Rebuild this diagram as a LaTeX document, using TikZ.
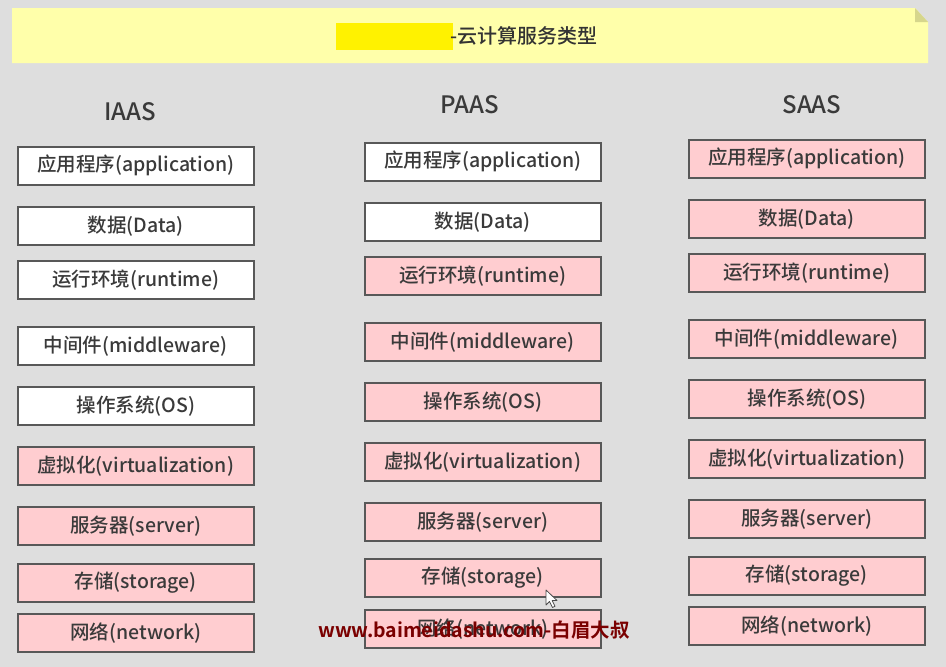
\documentclass[tikz,border=0pt]{standalone}
\usepackage{fontspec}
\setmainfont{Noto Sans CJK SC}[UprightFont={* Medium},BoldFont={* Bold}]
\definecolor{bg}{HTML}{DEDEDE}
\definecolor{pinkf}{HTML}{FFCDD0}
\definecolor{bord}{HTML}{585858}
\definecolor{txt}{HTML}{3A3A3A}
\definecolor{banner}{HTML}{FFFFAA}
\definecolor{foldc}{HTML}{D6D68C}
\definecolor{hl}{HTML}{FFF200}
\definecolor{wm}{HTML}{7A0000}
\begin{document}
\begin{tikzpicture}[x=1pt,y=-1pt,
  box/.style={draw=bord,line width=1.5pt,minimum width=236pt,minimum height=38pt,anchor=north west,inner sep=0pt,font=\fontsize{19.5}{21}\selectfont,text=txt},
  wbox/.style={box,fill=white},
  pbox/.style={box,fill=pinkf},
  head/.style={font=\fontsize{24}{26}\selectfont,text=txt,inner sep=0pt}]
\fill[bg] (0,0) rectangle (946,667);
\useasboundingbox (0,0) rectangle (946,667);
% banner
\fill[banner] (12,8) -- (915,8) -- (928,22) -- (928,63) -- (12,63) -- cycle;
\fill[foldc] (915,8) -- (928,22) -- (915,22) -- cycle;
\fill[hl] (336,23) rectangle (453,50);
\node[anchor=west,inner sep=0pt,font=\fontsize{20}{22}\selectfont,text=black!80] (title) at (450,36) {-云计算服务类型};
% headers
\node[head] (hi) at (130,112) {IAAS};
\node[head] (hp) at (470,105) {PAAS};
\node[head] (hs) at (812,105) {SAAS};
% IAAS
\node[wbox] (i1) at (17,146) {应用程序(application)};
\node[wbox] (i2) at (17,206) {数据(Data)};
\node[wbox] (i3) at (17,260) {运行环境(runtime)};
\node[wbox] (i4) at (17,326) {中间件(middleware)};
\node[wbox] (i5) at (17,386) {操作系统(OS)};
\node[pbox] (i6) at (17,446) {虚拟化(virtualization)};
\node[pbox] (i7) at (17,506) {服务器(server)};
\node[pbox] (i8) at (17,563) {存储(storage)};
\node[pbox] (i9) at (17,613) {网络(network)};
% PAAS
\node[wbox] (p1) at (364,142) {应用程序(application)};
\node[wbox] (p2) at (364,202) {数据(Data)};
\node[pbox] (p3) at (364,256) {运行环境(runtime)};
\node[pbox] (p4) at (364,322) {中间件(middleware)};
\node[pbox] (p5) at (364,382) {操作系统(OS)};
\node[pbox] (p6) at (364,442) {虚拟化(virtualization)};
\node[pbox] (p7) at (364,502) {服务器(server)};
\node[pbox] (p8) at (364,558) {存储(storage)};
\node[pbox] (p9) at (364,609) {网络(network)};
% SAAS
\node[pbox] (s1) at (688,139) {应用程序(application)};
\node[pbox] (s2) at (688,199) {数据(Data)};
\node[pbox] (s3) at (688,253) {运行环境(runtime)};
\node[pbox] (s4) at (688,319) {中间件(middleware)};
\node[pbox] (s5) at (688,379) {操作系统(OS)};
\node[pbox] (s6) at (688,439) {虚拟化(virtualization)};
\node[pbox] (s7) at (688,499) {服务器(server)};
\node[pbox] (s8) at (688,556) {存储(storage)};
\node[pbox] (s9) at (688,606) {网络(network)};
% cursor
\filldraw[fill=white,draw=black!70,line width=0.8pt,line join=round]
  (546,590) -- (546,605) -- (549.5,601.5) -- (552.5,607.5) -- (555,606.3) -- (552.2,600.5) -- (557,600.5) -- cycle;
% watermark
\node[anchor=west,inner sep=0pt,font=\fontsize{19.5}{22}\selectfont\bfseries,text=wm] (wmk) at (318,630) {www.baimeidashu.com-白眉大叔};
\end{tikzpicture}
\end{document}
